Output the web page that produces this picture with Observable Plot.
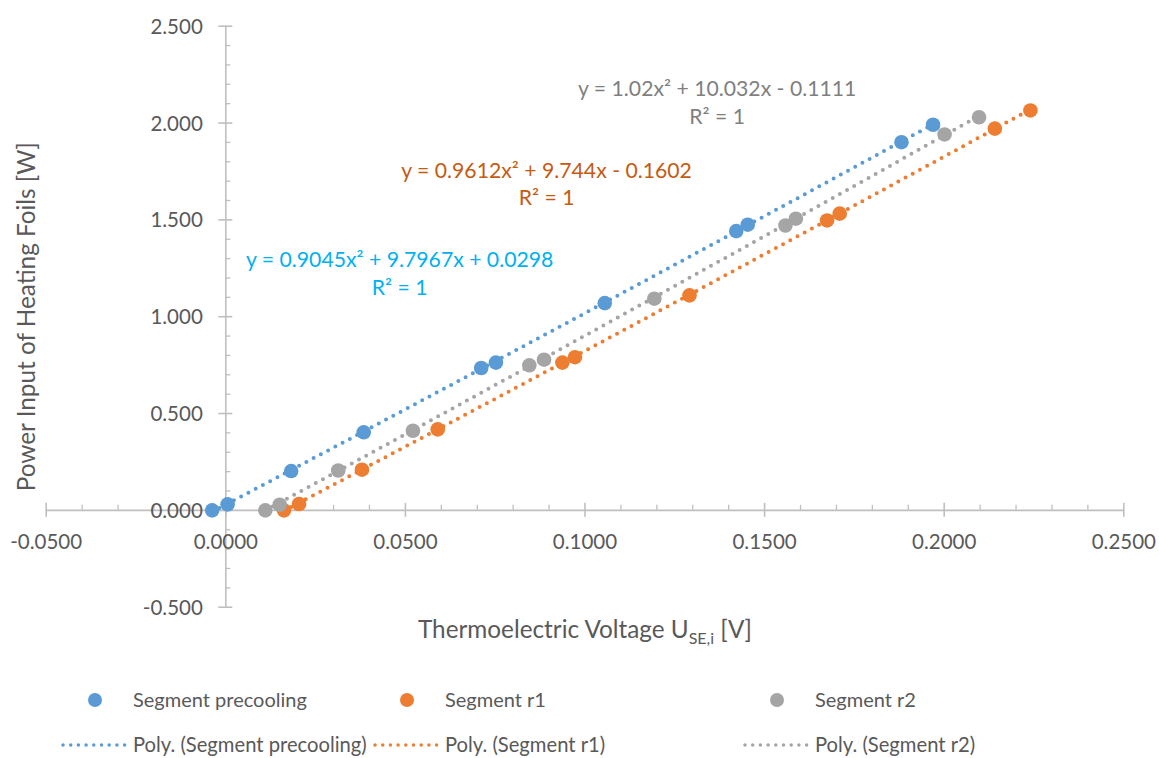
<!DOCTYPE html>
<html>
<head>
<meta charset="utf-8">
<script src="https://cdn.jsdelivr.net/npm/d3@7"></script>
<script src="https://cdn.jsdelivr.net/npm/@observablehq/plot@0.6"></script>
<style>
  body { margin: 0; background: #fff; }
  #wrap { position: relative; width: 1159px; height: 758px; font-family: Lato, sans-serif; }
  #legend { position: absolute; left: 0; top: 660px; }
</style>
</head>
<body>
<div id="wrap"></div>
<script>
// Series
const seriesNames = ["Segment precooling", "Segment r1", "Segment r2"];
const seriesColors = ["#5B9BD5", "#ED7D31", "#A5A5A5"];
const equationColors = ["#00B0F0", "#C55A11", "#7F7F7F"];

// Thermoelectric voltage U_SE,i [V] and heating foil power [W]
const precoolingU = [-0.0038, 0.0005, 0.0182, 0.0384, 0.0711, 0.0752, 0.1055, 0.1421, 0.1453, 0.1881, 0.1969];
const precoolingP = [0.000, 0.031, 0.203, 0.403, 0.735, 0.763, 1.070, 1.442, 1.475, 1.901, 1.991];
const r1U = [0.0162, 0.0204, 0.0379, 0.0590, 0.0937, 0.0972, 0.1291, 0.1674, 0.1709, 0.2141, 0.2240];
const r1P = [0.000, 0.033, 0.210, 0.418, 0.763, 0.791, 1.110, 1.497, 1.532, 1.971, 2.065];
const r2U = [0.0110, 0.0150, 0.0313, 0.0521, 0.0845, 0.0886, 0.1193, 0.1558, 0.1587, 0.2001, 0.2097];
const r2P = [0.000, 0.029, 0.206, 0.411, 0.749, 0.778, 1.093, 1.471, 1.506, 1.941, 2.030];

// Quadratic trendlines y = a·x² + b·x + c
const fitCoef = [[0.9045, 9.7967, 0.0298], [0.9612, 9.744, -0.1602], [1.02, 10.032, -0.1111]];
const fitEquations = ["y = 0.9045x² + 9.7967x + 0.0298", "y = 0.9612x² + 9.744x - 0.1602", "y = 1.02x² + 10.032x - 0.1111"];
const fitR2 = ["R² = 1", "R² = 1", "R² = 1"];

// Axis ticks
const xTicks = [-0.05, 0, 0.05, 0.1, 0.15, 0.2, 0.25];
const yTicks = [-0.5, 0, 0.5, 1, 1.5, 2, 2.5];
const xMinor = d3.range(-5, 26).filter(i => i % 5 !== 0).map(i => i / 100);
const yMinor = d3.range(-5, 26).filter(i => i % 5 !== 0).map(i => i / 10);

const yTitle = "Power Input of Heating Foils [W]";
// x title pieces: plain text, subscript, plain text
const xTitleParts = ["Thermoelectric Voltage U", "SE,i", " [V]"];

// Where each trend equation sits (data coordinates of the label centre)
const equationAt = [[0.0484, 1.229], [0.0893, 1.691], [0.1368, 2.112]];

const U = [precoolingU, r1U, r2U];
const P = [precoolingP, r1P, r2P];
const points = seriesNames.flatMap((s, k) => U[k].map((u, i) => ({series: s, u, p: P[k][i]})));
const trend = seriesNames.flatMap((s, k) => {
  const [a, b, c] = fitCoef[k];
  const [lo, hi] = d3.extent(U[k]);
  return d3.range(0, 201).map(i => {
    const u = lo + (hi - lo) * i / 200;
    return {series: s, u, p: a * u * u + b * u + c};
  });
});
const labels = seriesNames.map((s, k) => ({
  u: equationAt[k][0], p: equationAt[k][1],
  text: fitEquations[k] + "\n" + fitR2[k], color: equationColors[k]
}));

const axisColor = "#BFBFBF";
const textColor = "#595959";
const tickFont = 20.5;
const titleFont = 24.3;

const chart = Plot.plot({
  width: 1159,
  height: 660,
  marginLeft: 45.7,
  marginRight: 35.7,
  marginTop: 25.7,
  marginBottom: 53.3,
  x: {domain: [-0.05, 0.25], axis: null},
  y: {domain: [-0.5, 2.5], axis: null},
  color: {domain: seriesNames, range: seriesColors},
  style: {fontFamily: "Lato, sans-serif", background: "#fff", overflow: "visible"},
  marks: [
    // axes crossing at the origin
    Plot.ruleY([0], {stroke: axisColor, strokeWidth: 1.6}),
    Plot.ruleX([0], {stroke: axisColor, strokeWidth: 1.6}),
    Plot.ruleX(xTicks, {x: d => d, y1: () => 0, y2: () => 0, insetTop: -7, insetBottom: -7, stroke: axisColor, strokeWidth: 1.6}),
    Plot.ruleX(xMinor, {x: d => d, y1: () => 0, y2: () => 0, insetTop: -5, insetBottom: 0, stroke: axisColor, strokeWidth: 1.3}),
    Plot.ruleY(yTicks, {y: d => d, x1: () => 0, x2: () => 0, insetLeft: -7, insetRight: -7, stroke: axisColor, strokeWidth: 1.6}),
    Plot.ruleY(yMinor, {y: d => d, x1: () => 0, x2: () => 0, insetLeft: 0, insetRight: -5, stroke: axisColor, strokeWidth: 1.3}),
    // tick labels
    Plot.text(xTicks, {x: d => d, y: () => 0, text: d => d.toFixed(4), dy: 32.5, fill: textColor, fontSize: tickFont}),
    Plot.text(yTicks, {x: () => 0, y: d => d, text: d => d.toFixed(3), dx: -23, dy: 1, textAnchor: "end", fill: textColor, fontSize: tickFont}),
    // axis titles
    Plot.text([yTitle], {frameAnchor: "left", dx: -18.7, rotate: -90, textAnchor: "middle", lineAnchor: "middle", fill: textColor, fontSize: titleFont, text: d => d}),
    Plot.text([xTitleParts.join("")], {frameAnchor: "bottom", dy: 23.3, textAnchor: "middle", lineAnchor: "middle", fill: textColor, fontSize: titleFont, text: d => d, className: "xtitle"}),
    // polynomial trendlines (round dots)
    Plot.line(trend, {x: "u", y: "p", z: "series", stroke: "series", strokeWidth: 4, strokeDasharray: "0 8.2", strokeLinecap: "round"}),
    // measurements
    Plot.dot(points, {x: "u", y: "p", fill: "series", r: 7.3}),
    // trend equations
    Plot.text(labels, {x: "u", y: "p", text: "text", fill: "color", fontSize: 21.2, lineHeight: 1.3, lineAnchor: "middle"})
  ]
});

document.getElementById("wrap").appendChild(chart);

// subscript in the x-axis title
const xt = chart.querySelector(".xtitle text");
if (xt) {
  xt.textContent = "";
  xTitleParts.forEach((t, i) => {
    const ts = document.createElementNS("http://www.w3.org/2000/svg", "tspan");
    ts.textContent = t;
    if (i === 1) { ts.setAttribute("font-size", "16"); ts.setAttribute("dy", "5.5"); }
    if (i === 2) { ts.setAttribute("dy", "-5.5"); }
    xt.appendChild(ts);
  });
}

// legend below the plot
const legend = d3.select("#wrap").append("svg").attr("id", "legend").attr("width", 1159).attr("height", 98)
  .style("font-family", "Lato, sans-serif");
const legendX = [95, 407, 777];
const legendTextX = [133, 445, 815];
seriesNames.forEach((s, k) => {
  legend.append("circle").attr("cx", legendX[k]).attr("cy", 40).attr("r", 7).attr("fill", seriesColors[k]);
  legend.append("text").attr("x", legendTextX[k]).attr("y", 46.5).attr("fill", textColor).attr("font-size", 20).text(s);
  legend.append("line").attr("x1", legendX[k] - 32).attr("x2", legendX[k] + 30).attr("y1", 85).attr("y2", 85)
    .attr("stroke", seriesColors[k]).attr("stroke-width", 3.5).attr("stroke-dasharray", "0 7.7").attr("stroke-linecap", "round");
  legend.append("text").attr("x", legendTextX[k]).attr("y", 91.5).attr("fill", textColor).attr("font-size", 20.2).text(`Poly. (${s})`);
});
</script>
</body>
</html>
